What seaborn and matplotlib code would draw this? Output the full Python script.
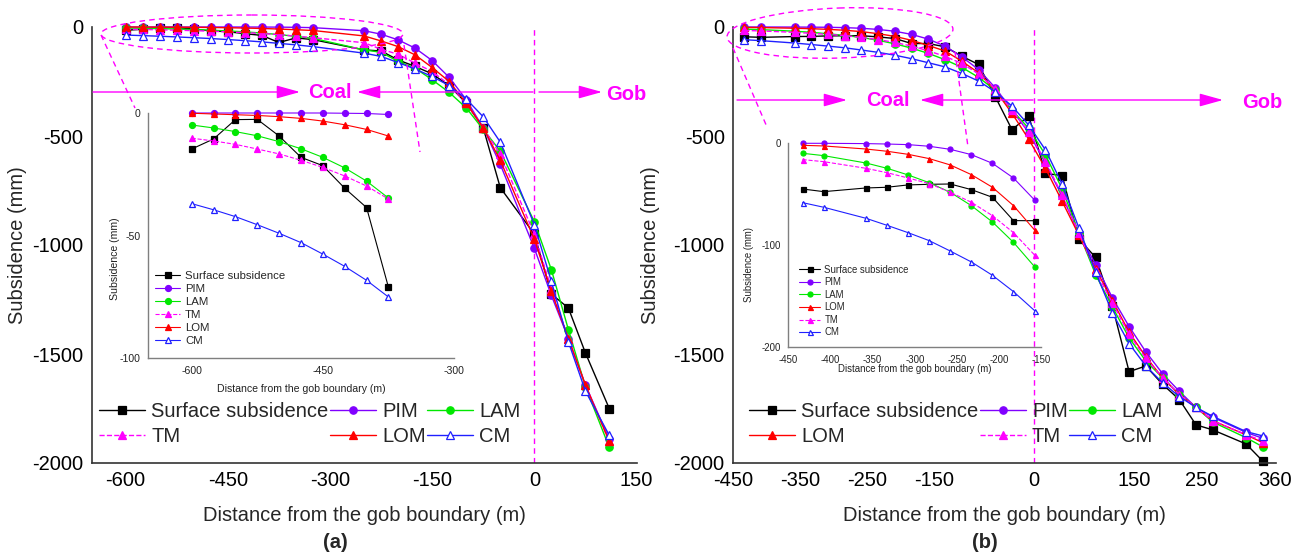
import numpy as np
import pandas as pd
import matplotlib
matplotlib.use("Agg")
import matplotlib.pyplot as plt
import seaborn as sns
from matplotlib.patches import Ellipse, FancyArrowPatch
from matplotlib.lines import Line2D
from matplotlib.transforms import Affine2D

# ---------------- data : panel (a) ----------------
xa = [-600, -575, -550, -525, -500, -475, -450, -425, -400, -375, -350, -325,
      -250, -225, -200, -175, -150, -125, -100, -75, -50, 0, 25, 50, 75, 110]
a_surface = [-14.7, -10.6, -2.7, -2.6, -9.4, -18.1, -21.5, -30.7, -38.6, -71.1, -50, -58,
             -105, -110, -151, -181, -215, -269, -349, -463, -737, -950, -1225, -1289, -1495, -1750]
a_pim = [0, 0, 0, 0, 0, 0, 0, -0.1, -0.2, -0.6, -1.5, -3,
         -17, -33, -59, -97, -154, -231, -333, -463, -630, -1015, -1231, -1429, -1642, -1890]
a_lam = [-4.9, -6.1, -7.6, -9.3, -11.7, -14.6, -18.1, -22.4, -27.8, -34.7, -43, -52,
         -105, -116, -158, -189, -242, -300, -371, -470, -569, -893, -1113, -1388, -1650, -1928]
a_tm = [-10.3, -11.4, -12.8, -14.7, -16.7, -19.3, -22.2, -25.7, -29.8, -35.1, -42, -49,
        -72, -102, -125, -166, -204, -265, -349, -463, -584, -950, -1200, -1429, -1642, -1901]
a_lom = [-0.1, -0.4, -0.7, -1.0, -1.5, -2.2, -3.3, -4.8, -6.7, -9.4, -12.5, -16,
         -41, -64, -90, -128, -186, -250, -349, -463, -612, -973, -1213, -1429, -1642, -1901]
a_cm = [-37.0, -39.5, -42.3, -45.6, -49.1, -52.9, -57.6, -62.6, -68.3, -75.1, -82, -90,
        -120, -135, -163, -193, -227, -269, -330, -412, -528, -906, -1167, -1444, -1670, -1873]
a_inset_n = 10

# ---------------- data : panel (b) ----------------
xb = [-433, -408, -358, -333, -308, -283, -258, -233, -208, -183, -158, -133, -108, -83, -58,
      -33, -8, 17, 42, 67, 92, 117, 142, 167, 192, 217, 242, 267, 317, 342]
b_surface = [-44.8, -47.4, -43.8, -43.1, -40.8, -40.2, -39.9, -45.4, -52.9, -75.8, -75.9, -91, -134, -172, -320,
             -471, -408, -671, -682, -973, -1057, -1280, -1581, -1555, -1639, -1709, -1825, -1848, -1913, -1992]
b_pim = [0, 0, -0.3, -0.7, -1.3, -2.9, -5.9, -11.1, -19.6, -34, -55.6, -88, -137, -195, -279,
         -381, -485, -625, -777, -945, -1090, -1242, -1374, -1490, -1590, -1671, -1745, -1790, -1860, -1887]
b_lam = [-9.8, -12.1, -19.3, -24.5, -31, -38.6, -48, -61.1, -77.1, -97.1, -121, -150, -185, -231, -290,
         -381, -465, -587, -743, -945, -1136, -1284, -1426, -1532, -1609, -1686, -1745, -1812, -1884, -1926]
b_lom = [-2, -2.6, -5.6, -7.8, -10.8, -15, -21.2, -30.7, -43.1, -61.1, -85, -110, -157, -210, -290,
         -396, -515, -648, -800, -955, -1110, -1255, -1400, -1513, -1609, -1686, -1745, -1806, -1871, -1907]
b_tm = [-16, -18, -24.5, -28.8, -34, -39.5, -48, -57.8, -70.9, -87.6, -109.5, -135, -167, -215, -285,
        -381, -480, -617, -770, -945, -1120, -1266, -1410, -1520, -1609, -1686, -1745, -1806, -1871, -1898]
b_cm = [-58.2, -62.7, -73.5, -80.4, -87.6, -95.4, -105.6, -116.3, -129.4, -145.4, -164, -183, -213, -248, -297,
        -363, -450, -564, -721, -922, -1125, -1311, -1452, -1555, -1632, -1695, -1745, -1786, -1856, -1876]
b_inset_n = 11

a_xticks = [-600, -450, -300, -150, 0, 150]
b_xticks = [-450, -350, -250, -150, 0, 150, 250, 360]
main_yticks = [0, -500, -1000, -1500, -2000]
a_inset_xticks = [-600, -450, -300]
a_inset_yticks = [0, -50, -100]
b_inset_xticks = [-450, -400, -350, -300, -250, -200, -150]
b_inset_yticks = [0, -100, -200]

# ---------------- style ----------------
sns.set_style("white")
plt.rcParams["font.family"] = ["Liberation Sans", "DejaVu Sans"]
plt.rcParams["axes.unicode_minus"] = False

MAG = "#FF00FF"
STY = {
    "Surface subsidence": dict(color="black", marker="s", mfc="black", ls="-"),
    "PIM": dict(color="#8000FF", marker="o", mfc="#8000FF", ls="-"),
    "LAM": dict(color="#00E800", marker="o", mfc="#00E800", ls="-"),
    "TM": dict(color=MAG, marker="^", mfc=MAG, ls="--"),
    "LOM": dict(color="#FF0000", marker="^", mfc="#FF0000", ls="-"),
    "CM": dict(color="#2020FF", marker="^", mfc="white", ls="-"),
}

W, H = 1305, 558
fig = plt.figure(figsize=(W / 100, H / 100), dpi=100)
T = Affine2D().scale(1, -1).translate(0, H)  # pixel coords, y from top


def rect(l, t, r, b):
    return [l / W, 1 - b / H, (r - l) / W, (b - t) / H]


def draw(ax, x, series, ms, lw, n=None):
    for name, ys in series:
        s = STY[name]
        xs = list(x[:n]) if n else list(x)
        yv = list(ys[:n]) if n else list(ys)
        sns.lineplot(x=xs, y=yv, ax=ax, color=s["color"], marker=s["marker"],
                     markersize=ms, markerfacecolor=s["mfc"], markeredgecolor=s["color"],
                     markeredgewidth=0.9, linewidth=lw, linestyle=s["ls"], label=name,
                     estimator=None, sort=False, clip_on=False, legend=False)
    if ax.get_legend() is not None:
        ax.get_legend().remove()


def handles(ax, order):
    d = {l.get_label(): l for l in ax.get_lines()}
    return [d[o] for o in order], order


def style_main(ax, xlim, xticks, ylab_x):
    ax.set_xlim(*xlim)
    ax.set_ylim(-2000, 0)
    ax.set_xticks(xticks)
    ax.set_yticks(main_yticks)
    for sp in ["top", "right"]:
        ax.spines[sp].set_visible(False)
    for sp in ["left", "bottom"]:
        ax.spines[sp].set_color("#333333")
        ax.spines[sp].set_linewidth(1.2)
    ax.tick_params(direction="in", length=5, width=1.1, colors="#333333",
                   labelcolor="black", labelsize=14.5, pad=6)
    ax.set_xlabel("Distance from the gob boundary (m)", fontsize=14.5)
    ax.set_ylabel("Subsidence (mm)", fontsize=14.5)
    ax.xaxis.set_label_coords(0.5, -0.098)
    ax.yaxis.set_label_coords(ylab_x, 0.5)
    ax.set_facecolor("none")
    ax.axvline(0, color=MAG, ls=(0, (4, 3)), lw=1.0, zorder=0)


def style_inset(ax, xlim, ylim, xticks, yticks, fs, ylab_x, xlab_y):
    ax.set_xlim(*xlim)
    ax.set_ylim(*ylim)
    ax.set_xticks(xticks)
    ax.set_yticks(yticks)
    for sp in ["top", "right"]:
        ax.spines[sp].set_visible(False)
    for sp in ["left", "bottom"]:
        ax.spines[sp].set_color("#7F7F7F")
        ax.spines[sp].set_linewidth(1.0)
    ax.tick_params(direction="out", length=3.5, width=0.9, colors="#7F7F7F",
                   labelcolor="#222222", labelsize=fs, pad=2)
    ax.set_xlabel("Distance from the gob boundary (m)", fontsize=fs, color="#222222")
    ax.set_ylabel("Subsidence (mm)", fontsize=fs, color="#222222")
    ax.xaxis.set_label_coords(0.5, xlab_y)
    ax.yaxis.set_label_coords(ylab_x, 0.405)
    ax.set_facecolor("none")


# ---------------- panel (a) ----------------
axA = fig.add_axes(rect(91.6, 27, 636.5, 463))
seriesA = [("Surface subsidence", a_surface), ("PIM", a_pim), ("LAM", a_lam),
           ("TM", a_tm), ("LOM", a_lom), ("CM", a_cm)]
draw(axA, xa, seriesA, ms=5.3, lw=1.0)
style_main(axA, (-650, 150), a_xticks, -0.118)
h, l = handles(axA, ["Surface subsidence", "TM", "PIM", "LOM", "LAM", "CM"])
axA.legend(h, l, ncol=3, loc="center left", bbox_to_anchor=(99 / W, 1 - 424 / H),
           bbox_transform=fig.transFigure, frameon=False, fontsize=14.5,
           handlelength=2.3, handletextpad=0.3, columnspacing=0.05, labelspacing=0.3,
           borderpad=0, borderaxespad=0)

insA = fig.add_axes(rect(148, 113, 454, 358))
draw(insA, xa, seriesA, ms=4.3, lw=0.8, n=a_inset_n)
style_inset(insA, (-650, -300), (-100, 0), a_inset_xticks, a_inset_yticks, 7.6, -0.093, -0.105)
h, l = handles(insA, ["Surface subsidence", "PIM", "LAM", "TM", "LOM", "CM"])
insA.legend(h, l, loc="center left", bbox_to_anchor=(155 / W, 1 - 308.3 / H),
            bbox_transform=fig.transFigure, frameon=False, fontsize=8.2,
            handlelength=2.2, handletextpad=0.45, labelspacing=0.26,
            borderpad=0, borderaxespad=0)

# ---------------- panel (b) ----------------
axB = fig.add_axes(rect(733, 27, 1276.3, 463))
seriesB = [("Surface subsidence", b_surface), ("PIM", b_pim), ("LAM", b_lam),
           ("LOM", b_lom), ("TM", b_tm), ("CM", b_cm)]
draw(axB, xb, seriesB, ms=5.3, lw=1.0)
style_main(axB, (-450, 362), b_xticks, -0.134)
h, l = handles(axB, ["Surface subsidence", "LOM", "PIM", "TM", "LAM", "CM"])
axB.legend(h, l, ncol=3, loc="center left", bbox_to_anchor=(749 / W, 1 - 424 / H),
           bbox_transform=fig.transFigure, frameon=False, fontsize=14.5,
           handlelength=2.3, handletextpad=0.3, columnspacing=0.05, labelspacing=0.3,
           borderpad=0, borderaxespad=0)

insB = fig.add_axes(rect(788.3, 143.3, 1041.3, 347.3))
draw(insB, xb, seriesB, ms=3.6, lw=0.8, n=b_inset_n)
style_inset(insB, (-450, -150), (-200, 0), b_inset_xticks, b_inset_yticks, 6.9, -0.135, -0.082)
h, l = handles(insB, ["Surface subsidence", "PIM", "LAM", "LOM", "TM", "CM"])
insB.legend(h, l, loc="center left", bbox_to_anchor=(799 / W, 1 - 301 / H),
            bbox_transform=fig.transFigure, frameon=False, fontsize=6.9,
            handlelength=2.2, handletextpad=0.45, labelspacing=0.27,
            borderpad=0, borderaxespad=0)

# ---------------- decorations (pixel coords) ----------------
def dline(p0, p1):
    fig.add_artist(Line2D([p0[0], p1[0]], [p0[1], p1[1]], transform=T, color=MAG,
                          lw=1.0, ls=(0, (4, 3))))


def arrow(x0, x1, y):
    fig.add_artist(FancyArrowPatch((x0, y), (x1, y), transform=T,
                                   arrowstyle="-|>,head_length=0.72,head_width=0.2",
                                   mutation_scale=20, color=MAG, lw=1.0,
                                   shrinkA=0, shrinkB=0))


def label(x, y, s):
    fig.text(x / W, 1 - y / H, s, color=MAG, fontsize=14.5, fontweight="bold",
             ha="center", va="center")


# (a)
fig.add_artist(Ellipse((252, 34), 302, 38, transform=T, fill=False, ec=MAG,
                       lw=1.0, ls=(0, (4, 3))))
dline((101, 35), (135, 108))
dline((404, 45), (420, 152))
arrow(93, 300, 92)
arrow(533, 357, 92)
arrow(539, 602, 92)
label(330, 93, "Coal")
label(626, 95, "Gob")

# (b)
fig.add_artist(Ellipse((840, 33), 226, 50, angle=-2, transform=T, fill=False, ec=MAG,
                       lw=1.0, ls=(0, (4, 3))))
dline((733, 48), (767, 127))
dline((955, 52), (968, 147))
arrow(737, 847, 100)
arrow(1033, 920, 100)
arrow(1038, 1223, 100)
label(888, 100, "Coal")
label(1262, 102, "Gob")

fig.text(335 / W, 1 - 543 / H, "(a)", fontsize=14.5, fontweight="bold", ha="center", va="center")
fig.text(985 / W, 1 - 543 / H, "(b)", fontsize=14.5, fontweight="bold", ha="center", va="center")

fig.savefig("out.png", dpi=100)
